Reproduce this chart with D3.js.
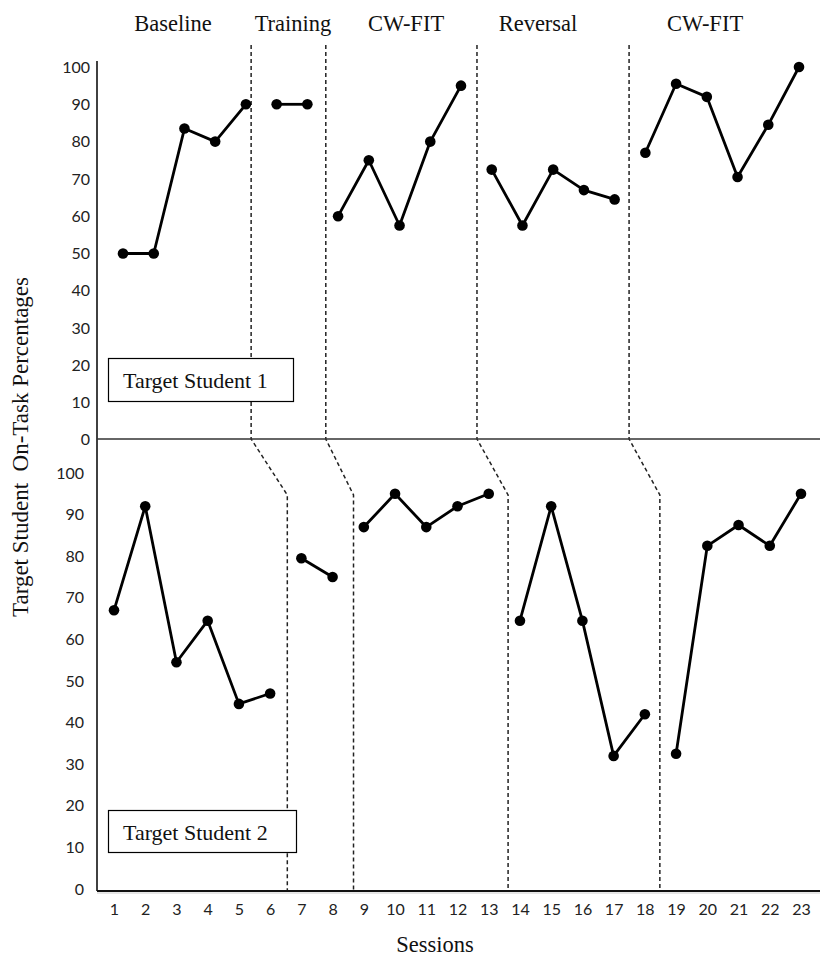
<!DOCTYPE html>
<html>
<head>
<meta charset="utf-8">
<script src="https://cdn.jsdelivr.net/npm/d3@7/dist/d3.min.js"></script>
<style>
  html, body { margin: 0; padding: 0; background: #fff; }
  svg { display: block; }
</style>
</head>
<body>
<svg id="chart" width="820" height="956"></svg>
<script>
// ---------------- DATA ----------------
const sessions = d3.range(1, 24);
const xTickLabels = sessions.map(String);
const yTicks = [0, 10, 20, 30, 40, 50, 60, 70, 80, 90, 100];
const phaseNames = ["Baseline", "Training", "CW-FIT", "Reversal", "CW-FIT"];

// Target Student 1 (top panel)
const student1Values = [50, 50, 83.5, 80, 90, 90, 90, 60, 75, 57.5, 80, 95, 72.5, 57.5, 72.5, 67, 64.5, 77, 95.5, 92, 70.5, 84.5, 100];
const student1Phase = [0, 0, 0, 0, 0, 1, 1, 2, 2, 2, 2, 2, 3, 3, 3, 3, 3, 4, 4, 4, 4, 4, 4];
const student1Changes = [5.17, 7.6, 12.52, 17.47];

// Target Student 2 (bottom panel)
const student2Values = [67, 92, 54.5, 64.5, 44.5, 47, 79.5, 75, 87, 95, 87, 92, 95, 64.5, 92, 64.5, 32, 42, 32.5, 82.5, 87.5, 82.5, 95];
const student2Phase = [0, 0, 0, 0, 0, 0, 1, 1, 2, 2, 2, 2, 2, 3, 3, 3, 3, 3, 4, 4, 4, 4, 4];
const student2Changes = [6.55, 8.67, 13.62, 18.48];

// ---------------- LAYOUT ----------------
const svg = d3.select("#chart");
const axisX = 97, rightX = 820;

const xTop = d3.scaleLinear().domain([1, 23]).range([123, 799]);
const yTop = d3.scaleLinear().domain([0, 100]).range([440, 67]);
const xBot = d3.scaleLinear().domain([1, 23]).range([114, 801]);
const yBot = d3.scaleLinear().domain([0, 100]).range([889, 473]);

const serif = "'Liberation Serif', 'Times New Roman', serif";
const sans = "Lato, 'Open Sans', sans-serif";

// ---------------- PHASE CHANGE LINES ----------------
const phaseG = svg.append("g");
student1Changes.forEach((c, i) => {
  const xt = xTop(c), xb = xBot(student2Changes[i]);
  phaseG.append("path")
    .attr("d", `M${xt},45 L${xt},${yTop(0) - 1} L${xb},495 L${xb},${yBot(0) + 2}`)
    .attr("fill", "none")
    .attr("stroke", "#222")
    .attr("stroke-width", 1.5)
    .attr("stroke-dasharray", "4,3");
});

// ---------------- AXES ----------------
svg.append("line").attr("x1", axisX).attr("x2", axisX).attr("y1", 61).attr("y2", yBot(0) + 2)
  .attr("stroke", "#111").attr("stroke-width", 1.6);
svg.append("line").attr("x1", axisX).attr("x2", rightX).attr("y1", yTop(0) - 1).attr("y2", yTop(0) - 1)
  .attr("stroke", "#333").attr("stroke-width", 1.6);
svg.append("line").attr("x1", axisX).attr("x2", rightX).attr("y1", yBot(0) + 2).attr("y2", yBot(0) + 2)
  .attr("stroke", "#111").attr("stroke-width", 1.8);
svg.append("line").attr("x1", axisX).attr("x2", rightX).attr("y1", yBot(0) + 4).attr("y2", yBot(0) + 4)
  .attr("stroke", "#ccc").attr("stroke-width", 1);

const yAxisTop = d3.axisLeft(yTop).tickValues(yTicks).tickSize(0).tickPadding(0);
const gTop = svg.append("g").attr("transform", "translate(90,0)").call(yAxisTop);
const yAxisBot = d3.axisLeft(yBot).tickValues(yTicks).tickSize(0).tickPadding(0);
const gBot = svg.append("g").attr("transform", "translate(84,0)").call(yAxisBot);
[gTop, gBot].forEach(g => {
  g.select(".domain").remove();
  g.selectAll("text").attr("font-family", sans).attr("font-size", 16).attr("fill", "#222");
});
gTop.selectAll(".tick").filter(d => d === 0).select("text").attr("dy", "0.25em");

const xAxis = d3.axisBottom(xBot).tickValues(sessions).tickFormat((d, i) => xTickLabels[i]).tickSize(0).tickPadding(0);
const gX = svg.append("g").attr("transform", "translate(0,904)").call(xAxis);
gX.select(".domain").remove();
gX.selectAll("text").attr("font-family", sans).attr("font-size", 16).attr("fill", "#222");

// ---------------- DATA LINES ----------------
function drawPanel(values, phases, x, y) {
  const g = svg.append("g");
  const pts = values.map((v, i) => ({ s: sessions[i], v, p: phases[i] }));
  const groups = d3.groups(pts, d => d.p);
  const line = d3.line().x(d => x(d.s)).y(d => y(d.v));
  groups.forEach(([, arr]) => {
    g.append("path").attr("d", line(arr)).attr("fill", "none")
      .attr("stroke", "#000").attr("stroke-width", 2.8).attr("stroke-linejoin", "round");
  });
  g.selectAll("circle").data(pts).join("circle")
    .attr("cx", d => x(d.s)).attr("cy", d => y(d.v)).attr("r", 5.3).attr("fill", "#000");
}
drawPanel(student1Values, student1Phase, xTop, yTop);
drawPanel(student2Values, student2Phase, xBot, yBot);

// ---------------- LABEL BOXES ----------------
function labelBox(x0, y0, w, h, text, tx, ty) {
  svg.append("rect").attr("x", x0).attr("y", y0).attr("width", w).attr("height", h)
    .attr("fill", "#fff").attr("stroke", "#000").attr("stroke-width", 1.2);
  svg.append("text").attr("x", tx).attr("y", ty).text(text)
    .attr("font-family", serif).attr("font-size", 22).attr("fill", "#111");
}
labelBox(108.5, 358.5, 185, 43, "Target Student 1", 123, 388);
labelBox(108.5, 810.5, 188, 42, "Target Student 2", 123, 840);

// ---------------- PHASE TITLES ----------------
const phaseTitleX = [173, 293, 406, 538, 705];
svg.selectAll("text.phase").data(phaseNames).join("text")
  .attr("class", "phase")
  .attr("x", (d, i) => phaseTitleX[i]).attr("y", 31)
  .attr("text-anchor", "middle")
  .attr("font-family", serif).attr("font-size", 22.5).attr("fill", "#111")
  .text(d => d);

// ---------------- AXIS TITLES ----------------
svg.append("text")
  .attr("transform", "translate(28,447) rotate(-90)")
  .attr("text-anchor", "middle")
  .attr("font-family", serif).attr("font-size", 23).attr("fill", "#111")
  .style("white-space", "pre")
  .text("Target Student  On-Task Percentages");

svg.append("text")
  .attr("x", 435).attr("y", 952)
  .attr("text-anchor", "middle")
  .attr("font-family", serif).attr("font-size", 22.5).attr("fill", "#111")
  .text("Sessions");
</script>
</body>
</html>
